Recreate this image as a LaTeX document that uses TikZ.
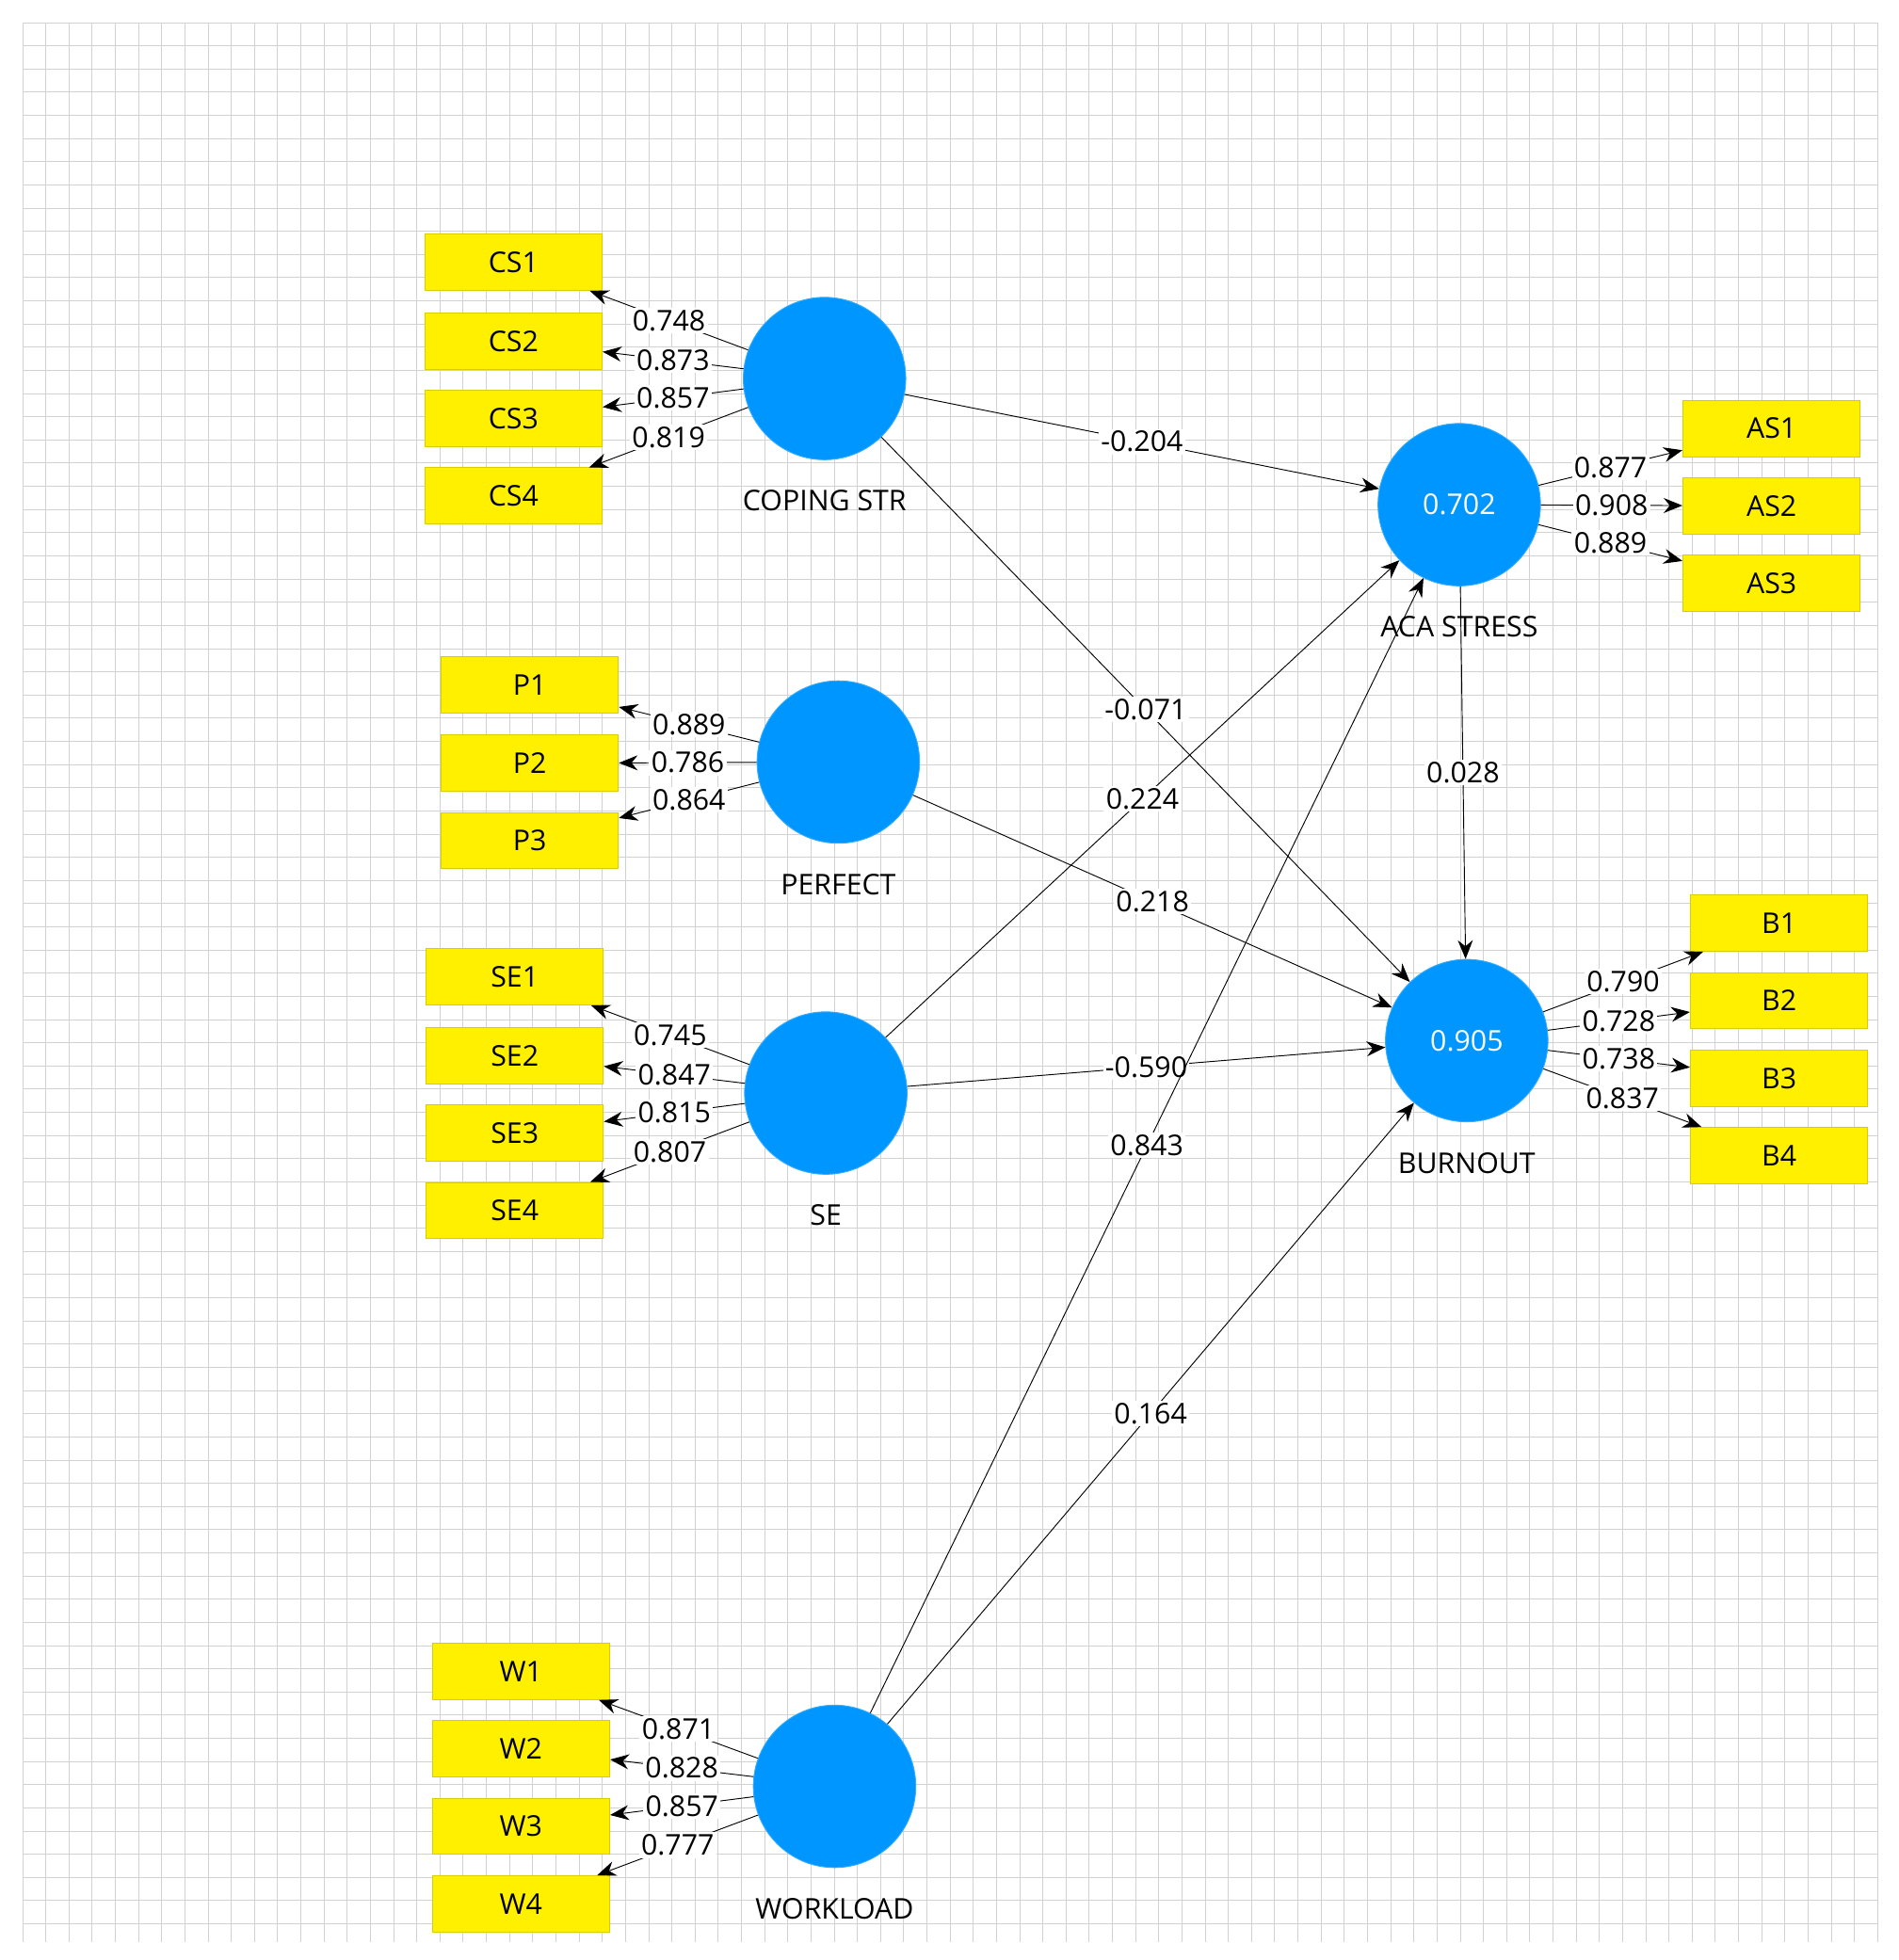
\documentclass[tikz,border=0pt]{standalone}
\usepackage{fontspec}
\setmainfont{Open Sans}
\usetikzlibrary{arrows.meta,positioning}
\definecolor{colorLV}{RGB}{0,150,255}
\definecolor{colorMV}{RGB}{255,240,0}
\tikzset{
   every path/.style={>={Stealth[length=3mm,width=2.4mm]}},
   lv/.style={circle,fill=colorLV,draw=colorLV!80!white,minimum size=26mm,inner sep=0pt,text=white},
   mv/.style={rectangle,fill=colorMV,draw=colorMV!85!black,minimum width=28.4mm,minimum height=9mm},
   lvl/.style={below=3.6mm},
   ld/.style={->,line width=0.4pt},
   lbl/.style={fill=white,inner sep=1pt,pos=0.5},
}
\begin{document}
\begin{tikzpicture}[x=0.2mm,y=-0.2mm,font=\fontsize{13}{15}\selectfont]
    \useasboundingbox (0,0) rectangle (1520,1569);
    \fill[white] (0,0) rectangle (1520,1569);
    % grid
    \foreach \i in {0,...,80} \draw[gray!35,line width=0.3pt] ({18+\i*18.56},18) -- ({18+\i*18.56},1555);
    \foreach \i in {0,...,82} \draw[gray!35,line width=0.3pt] (18,{18+\i*18.56}) -- (1503,{18+\i*18.56});

    \node[lv] (cop) at (660,303) {};
    \node[lv] (per) at (671,610) {};
    \node[lv] (se)  at (661,875) {};
    \node[lv] (wl)  at (668,1430) {};
    \node[lv] (aca) at (1168,404) {0.702};
    \node[lv] (bur) at (1174,833) {0.905};

    \node[lvl] at (cop.south) {COPING STR};
    \node[lvl] at (per.south) {PERFECT};
    \node[lvl] at (se.south) {SE};
    \node[lvl] at (wl.south) {WORKLOAD};
    \node[lvl] at (aca.south) {ACA STRESS};
    \node[lvl] at (bur.south) {BURNOUT};

    % indicators
    \foreach \n/\y/\v in {1/210/0.748,2/273/0.873,3/335/0.857,4/397/0.819}
      {\node[mv] (cs\n) at (411,\y) {CS\n};
       \draw[ld] (cop) -- (cs\n) node[lbl] {\v};}
    \foreach \n/\y/\v in {1/548/0.889,2/611/0.786,3/673/0.864}
      {\node[mv] (p\n) at (424,\y) {P\n};
       \draw[ld] (per) -- (p\n) node[lbl] {\v};}
    \foreach \n/\y/\v in {1/782/0.745,2/845/0.847,3/907/0.815,4/969/0.807}
      {\node[mv] (se\n) at (412,\y) {SE\n};
       \draw[ld] (se) -- (se\n) node[lbl] {\v};}
    \foreach \n/\y/\v in {1/1338/0.871,2/1400/0.828,3/1462/0.857,4/1524/0.777}
      {\node[mv] (w\n) at (417,\y) {W\n};
       \draw[ld] (wl) -- (w\n) node[lbl] {\v};}
    \foreach \n/\y/\v in {1/343/0.877,2/405/0.908,3/467/0.889}
      {\node[mv] (as\n) at (1418,\y) {AS\n};
       \draw[ld] (aca) -- (as\n) node[lbl] {\v};}
    \foreach \n/\y/\v in {1/739/0.790,2/801/0.728,3/863/0.738,4/925/0.837}
      {\node[mv] (b\n) at (1424,\y) {B\n};
       \draw[ld] (bur) -- (b\n) node[lbl] {\v};}

    % paths
    \draw[ld] (cop) -- (aca) node[lbl] {-0.204};
    \draw[ld] (cop) -- (bur) node[lbl] {-0.071};
    \draw[ld] (per) -- (bur) node[lbl] {0.218};
    \draw[ld] (se) -- (aca) node[lbl] {0.224};
    \draw[ld] (se) -- (bur) node[lbl] {-0.590};
    \draw[ld] (wl) -- (aca) node[lbl] {0.843};
    \draw[ld] (wl) -- (bur) node[lbl] {0.164};
    \draw[ld] (aca) -- (bur) node[lbl] {0.028};
\end{tikzpicture}
\end{document}
